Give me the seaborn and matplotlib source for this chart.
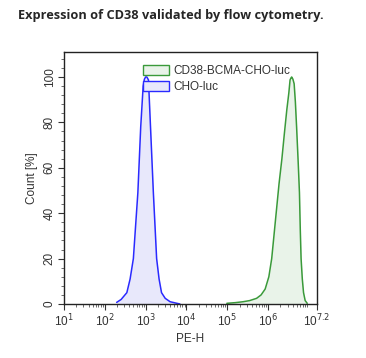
"""
Flow cytometry overlay: CD38 expression on CHO-luc vs CD38-BCMA-CHO-luc
"""

import numpy as np
import pandas as pd
import matplotlib
matplotlib.use('Agg')
import matplotlib.pyplot as plt
import matplotlib.ticker as mticker
from matplotlib.patches import Patch
import seaborn as sns

# PE-H given as log10 exponent, count as % of mode
cho_exp = [2.29, 2.40, 2.54, 2.62, 2.70, 2.81, 2.88, 2.94, 2.97, 3.00, 3.03, 3.07,
           3.12, 3.19, 3.27, 3.33, 3.39, 3.48, 3.60, 3.84]
cho_pct = [0.7, 2, 5, 11, 20, 49, 78, 96, 99, 100, 100, 98.7,
           78, 49, 20, 11, 5, 2.5, 1, 0]

bcma_exp = [4.99, 5.20, 5.39, 5.55, 5.72, 5.83, 5.93, 6.02, 6.09, 6.15, 6.21, 6.27, 6.34,
            6.40, 6.46, 6.51, 6.54, 6.56, 6.58, 6.61, 6.64, 6.67, 6.70, 6.74, 6.77,
            6.79, 6.81, 6.84, 6.87, 6.91, 6.96]
bcma_pct = [0.3, 0.6, 1, 1.5, 2.5, 4, 6.6, 12, 20, 31, 42, 53, 64,
            75, 85.5, 93, 98.7, 99.5, 100, 99, 97, 89, 78, 62, 49,
            33, 20, 11, 5, 1.5, 0.3]

xtick_exp = [1, 2, 3, 4, 5, 6, 7.2]
xtick_labels = ['10$^{1}$', '10$^{2}$', '10$^{3}$', '10$^{4}$', '10$^{5}$', '10$^{6}$', '10$^{7.2}$']
legend_names = ['CD38-BCMA-CHO-luc', 'CHO-luc']

sns.set_style('ticks')
plt.rcParams['font.family'] = ['Liberation Sans', 'DejaVu Sans']

cho = pd.DataFrame({'pe': np.power(10.0, cho_exp), 'pct': cho_pct})
bcma = pd.DataFrame({'pe': np.power(10.0, bcma_exp), 'pct': bcma_pct})

blue, blue_fill = '#2a2aff', '#e8e8fb'
green, green_fill = '#3a9a3a', '#e9f3e9'

fig = plt.figure(figsize=(3.66, 3.58), dpi=100)
ax = fig.add_axes([64/366, 1-304/358, 253/366, 252/358])

ax.fill_between(cho['pe'], cho['pct'], color=blue_fill, lw=0)
ax.fill_between(bcma['pe'], bcma['pct'], color=green_fill, lw=0)
sns.lineplot(data=cho, x='pe', y='pct', ax=ax, color=blue, lw=1.1, sort=False)
sns.lineplot(data=bcma, x='pe', y='pct', ax=ax, color=green, lw=1.1, sort=False)

ax.set_xscale('log')
ax.set_xlim(10**1, 10**7.2)
ax.set_ylim(0, 111)
ax.set_xticks(np.power(10.0, xtick_exp))
ax.set_xticklabels(xtick_labels)
ax.xaxis.set_minor_locator(mticker.LogLocator(base=10, subs=np.arange(2, 10)))
ax.xaxis.set_minor_formatter(mticker.NullFormatter())
ax.set_yticks([0, 20, 40, 60, 80, 100])
ax.yaxis.set_minor_locator(mticker.MultipleLocator(4))

for s in ax.spines.values():
    s.set_color('#222222')
    s.set_linewidth(1.0)
ax.tick_params(axis='both', which='major', length=4, width=0.8, color='#333333',
               labelcolor='#333333', labelsize=8.5, pad=2)
ax.tick_params(axis='both', which='minor', length=2, width=0.6, color='#555555')
plt.setp(ax.get_yticklabels(), rotation=90, va='center')

ax.set_xlabel('PE-H', fontsize=8.5, color='#333333', labelpad=3)
ax.set_ylabel('Count [%]', fontsize=8.5, color='#333333', labelpad=4)

handles = [Patch(facecolor=green_fill, edgecolor=green, lw=1),
           Patch(facecolor=blue_fill, edgecolor=blue, lw=1)]
ax.legend(handles, legend_names, loc='upper left', bbox_to_anchor=(0.275, 0.985),
          frameon=False, fontsize=8.5, handlelength=2.2, handleheight=0.9,
          handletextpad=0.4, labelspacing=0.35, borderaxespad=0.4,
          labelcolor='#333333')

fig.text(18/366, 1-16/358, 'Expression of CD38 validated by flow cytometry.',
         fontsize=9.2, fontweight='bold', family=['Open Sans', 'DejaVu Sans'],
         va='center', ha='left')

fig.savefig('out.png', dpi=100)
